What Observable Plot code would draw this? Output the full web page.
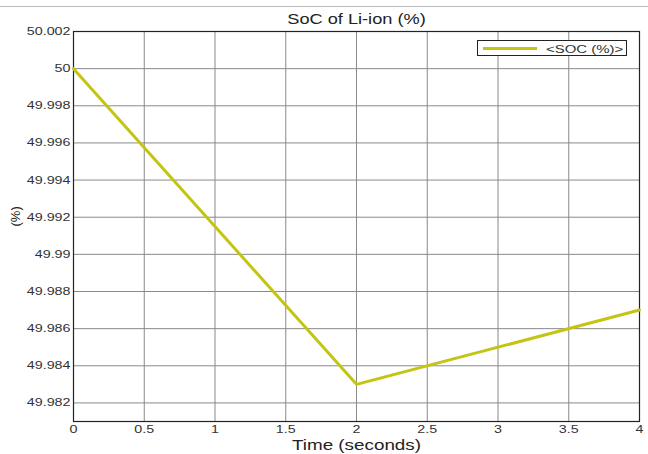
<!DOCTYPE html>
<html>
<head>
<meta charset="utf-8">
<script src="https://cdn.jsdelivr.net/npm/d3@7"></script>
<script src="https://cdn.jsdelivr.net/npm/@observablehq/plot@0.6"></script>
<style>
  html, body { margin: 0; padding: 0; background: #fff; }
  svg { display: block; }
</style>
</head>
<body>
<div id="chart"></div>
<script>
const time = [0, 2, 4];
const soc = [50.000, 49.983, 49.987];
const xTicks = [0, 0.5, 1, 1.5, 2, 2.5, 3, 3.5, 4];
const yTicks = [49.982, 49.984, 49.986, 49.988, 49.990, 49.992, 49.994, 49.996, 49.998, 50.000, 50.002];
const titleText = "SoC of Li-ion (%)";
const xLabel = "Time (seconds)";
const yLabel = "(%)";
const seriesName = "<SOC (%)>";

const data = time.map((t, i) => ({t, v: soc[i]}));
const fmt = v => String(+v.toFixed(3));
const lineColor = "#c4c414";
const stretch = 1.3;

const plot = Plot.plot({
  width: 648,
  height: 454,
  marginLeft: 73,
  marginRight: 9,
  marginTop: 31,
  marginBottom: 33,
  style: {fontFamily: "'Liberation Sans', Arial, sans-serif", fontSize: "11px", color: "#333", background: "#fff"},
  x: {domain: [0, 4]},
  y: {domain: [49.981, 50.002]},
  marks: [
    Plot.gridX(xTicks, {stroke: "#8a8a8a", strokeOpacity: 1}),
    Plot.gridY(yTicks, {stroke: "#8a8a8a", strokeOpacity: 1}),
    Plot.frame({stroke: "#222", strokeWidth: 1.2}),
    Plot.axisX(xTicks, {tickSize: 0, tickPadding: 4, tickFormat: fmt, label: null, fill: "#333"}),
    Plot.axisY(yTicks, {tickSize: 0, tickPadding: 3, tickFormat: fmt, label: null, fill: "#333"}),
    Plot.line(data, {x: "t", y: "v", stroke: lineColor, strokeWidth: 3}),
    Plot.text([titleText], {frameAnchor: "top", lineAnchor: "middle", dy: -12, fontSize: 14, fill: "#222"}),
    Plot.text([xLabel], {frameAnchor: "bottom", lineAnchor: "middle", dy: 24, fontSize: 14.5, fill: "#222"}),
    Plot.text([yLabel], {frameAnchor: "left", dx: -58, rotate: -90, fontSize: 13, fill: "#222"})
  ]
});
document.getElementById("chart").appendChild(plot);

const svg = d3.select(plot);
svg.append("line").attr("x1", 0).attr("x2", 648).attr("y1", 6.5).attr("y2", 6.5)
  .attr("stroke", "#bbb").attr("stroke-width", 1);
const lg = svg.append("g");
lg.append("rect").attr("x", 477.5).attr("y", 40.5).attr("width", 149).attr("height", 15)
  .attr("fill", "#fff").attr("stroke", "#222").attr("stroke-width", 1);
lg.append("line").attr("x1", 483).attr("x2", 537).attr("y1", 48.5).attr("y2", 48.5)
  .attr("stroke", lineColor).attr("stroke-width", 3);
lg.append("text").attr("x", 546).attr("y", 48.5).attr("dy", "0.35em")
  .attr("text-anchor", "start").attr("font-size", 11.5).attr("fill", "#333").text(seriesName);

// horizontally stretch the (non-rotated) texts about their anchor, as in the reference
svg.selectAll("text").each(function() {
  const t = this.getAttribute("transform") || "";
  if (t.includes("rotate")) return;
  const xa = this.getAttribute("x"), ya = this.getAttribute("y");
  let x = 0, y = 0;
  if (xa !== null && !isNaN(+xa)) { x = +xa; this.removeAttribute("x"); }
  if (ya !== null && !isNaN(+ya)) { y = +ya; this.removeAttribute("y"); }
  this.setAttribute("transform", `${t} translate(${x},${y}) scale(${stretch},1)`);
});
</script>
</body>
</html>
